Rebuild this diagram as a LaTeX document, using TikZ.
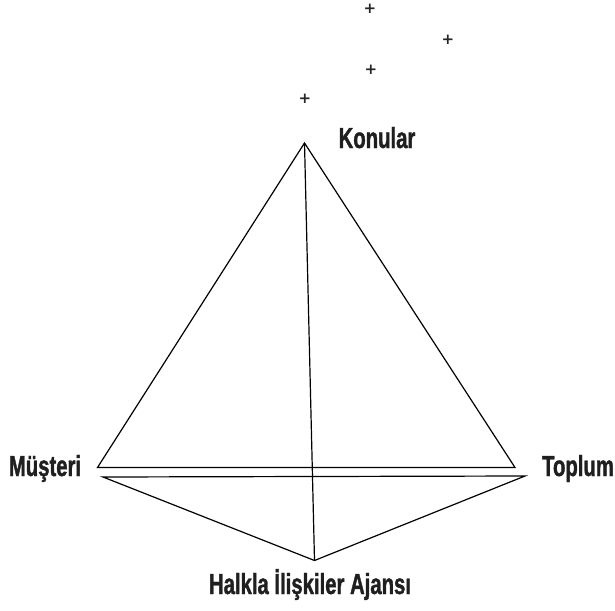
\documentclass[tikz,border=0pt]{standalone}
\usepackage{fontspec}
\newfontfamily\labfont[FakeStretch=0.70,FakeBold=1.2]{Liberation Sans Bold}
\newfontfamily\plusfont{DejaVu Sans Bold}
\begin{document}
\begin{tikzpicture}[x=1pt,y=-1pt,
  lab/.style={font=\labfont\fontsize{29}{32}\selectfont, text=black!88, inner sep=0pt, anchor=base},
  plusmark/.style={font=\plusfont\fontsize{15}{17}\selectfont, text=black!85, inner sep=0pt},
  edge/.style={draw=black, line width=1.2pt, line join=miter}]
\useasboundingbox (0,0) rectangle (615,610);
% plus signs
\node[plusmark] (p1) at (370,9) {+};
\node[plusmark] (p2) at (448,40) {+};
\node[plusmark] (p3) at (371,70) {+};
\node[plusmark] (p4) at (305,99) {+};
% vertices
\coordinate (apex) at (304.5,143);
\coordinate (left) at (97.5,467.5);
\coordinate (right) at (515,467.5);
\coordinate (lleft) at (103,477);
\coordinate (lright) at (525,476);
\coordinate (bottom) at (314.5,560.5);
% upper triangle
\draw[edge] (apex) -- (left) -- (right) -- cycle;
% lower triangle
\draw[edge] (lleft) -- (lright) -- (bottom) -- cycle;
% vertical line
\draw[edge] (apex) -- (bottom);
% labels
\node[lab] (konular) at (377,148) {Konular};
\node[lab] (musteri) at (45,476) {Müşteri};
\node[lab] (toplum) at (578,476) {Toplum};
\node[lab] (ajans) at (310,594) {Halkla İlişkiler Ajansı};
\end{tikzpicture}
\end{document}
